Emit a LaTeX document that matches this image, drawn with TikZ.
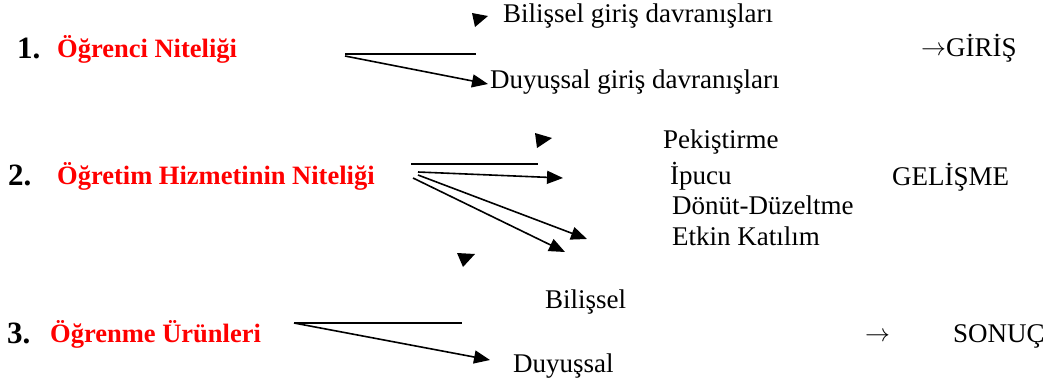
\documentclass[tikz,border=0pt]{standalone}
\usepackage{fontspec}
\setmainfont{Liberation Serif}
\usetikzlibrary{arrows.meta}
\definecolor{titlered}{RGB}{255,0,0}
\tikzset{
  lbl/.style={anchor=base west, inner sep=0pt, font=\fontsize{27}{31}\selectfont},
  num/.style={lbl, font=\fontsize{31}{35}\selectfont\bfseries},
  head/.style={lbl, font=\fontsize{26.5}{31}\selectfont\bfseries, text=titlered},
  bar/.style={line width=1.6pt},
  arr/.style={line width=1.6pt, -{Triangle[length=16pt,width=13pt]}},
  tip/.style={fill=black}
}
\newcommand{\rarr}{\raisebox{0.5pt}{$\rightarrow$}}
\begin{document}
\begin{tikzpicture}[x=1pt,y=-1pt]
\useasboundingbox (0,0) rectangle (1046,381);

% row 1: learner characteristics
\node[num]  (n1) at (17,58) {1.};
\node[head] (h1) at (57,57) {Öğrenci Niteliği};
\node[lbl]  (b1) at (503,22) {Bilişsel giriş davranışları};
\node[lbl]  (d1) at (490,88) {Duyuşsal giriş davranışları};
\node[lbl]  (g1) at (921,56) {\rarr GİRİŞ};
\coordinate (s1a) at (345,54);
\coordinate (e1a) at (476,54);
\coordinate (s1b) at (345,56);
\coordinate (e1b) at (488,84);
\draw[bar] (s1a) -- (e1a);
\draw[arr] (s1b) -- (e1b);
\fill[tip] (472,13) -- (488,16) -- (475,27) -- cycle;

% row 2: quality of instruction
\node[num]  (n2) at (8,185) {2.};
\node[head] (h2) at (57,184) {Öğretim Hizmetinin Niteliği};
\node[lbl]  (p2) at (663,148) {Pekiştirme};
\node[lbl]  (i2) at (670,184) {İpucu};
\node[lbl]  (g2) at (892,185) {GELİŞME};
\node[lbl]  (d2) at (672,214) {Dönüt-Düzeltme};
\node[lbl]  (e2) at (672,245) {Etkin Katılım};
\coordinate (s2a) at (411,164);
\coordinate (e2a) at (538,164);
\coordinate (s2b) at (418,172);
\coordinate (e2b) at (563,178);
\coordinate (s2c) at (418,175);
\coordinate (e2c) at (587,239);
\coordinate (s2d) at (413,178);
\coordinate (e2d) at (565,252);
\draw[bar] (s2a) -- (e2a);
\draw[arr] (s2b) -- (e2b);
\draw[arr] (s2c) -- (e2c);
\draw[arr] (s2d) -- (e2d);
\fill[tip] (535,133) -- (552,138) -- (537,148) -- cycle;
\fill[tip] (457,253) -- (475,254) -- (463,267) -- cycle;

% row 3: learning outcomes
\node[num]  (n3) at (7,343) {3.};
\node[head] (h3) at (50,342) {Öğrenme Ürünleri};
\node[lbl]  (b3) at (545,308) {Bilişsel};
\node[lbl]  (d3) at (513,372) {Duyuşsal};
\node[lbl]  (a3) at (865,342) {\rarr};
\node[lbl]  (s3) at (953,342) {SONUÇ};
\coordinate (s3a) at (294,323);
\coordinate (e3a) at (462,323);
\coordinate (s3b) at (294,323);
\coordinate (e3b) at (490,360);
\draw[bar] (s3a) -- (e3a);
\draw[arr] (s3b) -- (e3b);
\end{tikzpicture}
\end{document}
